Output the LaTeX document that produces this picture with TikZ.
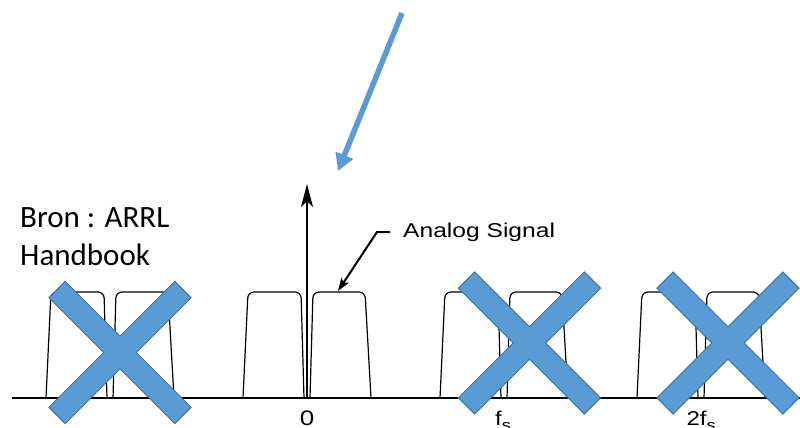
\documentclass[tikz,border=0pt]{standalone}
\usepackage{fontspec}
\usetikzlibrary{arrows.meta}
\newfontfamily\calibfont{Carlito}
\newfontfamily\arialfont{Liberation Sans}
\definecolor{xblue}{HTML}{5B9BD5}
\definecolor{xborder}{HTML}{41719C}
\tikzset{
  lobe/.style={draw=black, line width=1.2pt, rounded corners=6pt},
  axisline/.style={draw=black, line width=2pt},
  xshape/.style={fill=xblue, draw=xborder, line width=1pt},
  lbl/.style={inner sep=0pt, anchor=base, font=\arialfont\fontsize{20}{20}\selectfont},
  srctext/.style={inner sep=0pt, anchor=base west, font=\calibfont\fontsize{31}{38}\selectfont},
  xmark/.pic={
    \path[xshape] (89,11.5)--(11.5,11.5)--(11.5,89)--(-11.5,89)--(-11.5,11.5)--(-89,11.5)
      --(-89,-11.5)--(-11.5,-11.5)--(-11.5,-89)--(11.5,-89)--(11.5,-11.5)--(89,-11.5)--cycle;
  }
}
\newcommand{\lobes}[1]{%
  \draw[lobe] (#1-64,398) -- (#1-59,292) -- (#1-6,292) -- (#1-3,398);
  \draw[lobe] (#1+3,398) -- (#1+6,292) -- (#1+58,292) -- (#1+64,398);
}
\begin{document}
\begin{tikzpicture}[x=1pt,y=-1pt]
\useasboundingbox (0,0) rectangle (800,428);
% spectral lobes
\lobes{110}
\lobes{307}
\lobes{504}
\lobes{701}
% frequency axis
\coordinate (axL) at (12,398);
\coordinate (axR) at (805,398);
\draw[axisline] (axL) -- (axR);
% carrier arrow
\coordinate (carB) at (307,398);
\coordinate (carT) at (307,184);
\draw[line width=2.2pt, -{Stealth[length=23pt,width=12pt,inset=6pt]}] (carB) -- (carT);
% labels on axis
\node[lbl] (zero) at (307,425) {\scalebox{1.3}[1.05]{0}};
\node[lbl] (fs) at (503,425) {\scalebox{1.2}[1]{f\raisebox{-5pt}{\fontsize{15}{15}\selectfont s}}};
\node[lbl] (tfs) at (701,425) {\scalebox{1.2}[1]{2f\raisebox{-5pt}{\fontsize{15}{15}\selectfont s}}};
% Analog signal label
\node[inner sep=0pt, anchor=base west, font=\arialfont\fontsize{20}{20}\selectfont] (analog) at (403,237) {\scalebox{1.23}[1]{Analog Signal}};
\coordinate (anS) at (390,232);
\coordinate (anK) at (377,232);
\coordinate (anT) at (338,291);
\draw[line width=2pt, -{Stealth[length=13pt,width=9pt,inset=3pt]}] (anS) -- (anK) -- (anT);
% source text
\node[srctext] (bron) at (20,227) {Bron : ARRL};
\node[srctext] (handbook) at (20,265) {Handbook};
% crosses
\path (120,352.5) pic[rotate=45] {xmark};
\path (529.5,343) pic[rotate=45] {xmark};
\path (728,343) pic[rotate=45] {xmark};
% blue pointer arrow
\coordinate (bS) at (402,13);
\coordinate (bT) at (338,171);
\draw[xblue, line width=5.5pt, -{Triangle[length=17pt,width=18pt]}] (bS) -- (bT);
\end{tikzpicture}
\end{document}
